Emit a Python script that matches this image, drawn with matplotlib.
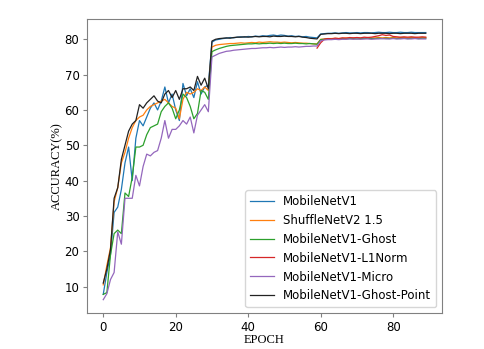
import matplotlib
matplotlib.use('Agg')
import matplotlib.pyplot as plt

epochs = list(range(90))

mobilenet = [7.8, 14, 19, 31, 32.5, 37.5, 45, 49.5, 40, 52,
             57, 55.5, 58, 60.5, 62, 60, 62.5, 66.5, 62, 64.5,
             60, 57, 67.5, 64, 66, 63.5, 68, 64.5, 66.5, 67,
             79.2, 79.8, 80.0, 80.2, 80.3, 80.5, 80.4, 80.6, 80.7, 80.6,
             80.8, 80.7, 80.9, 80.8, 81.0, 80.9, 81.1, 81.2, 81.0, 81.2,
             81.1, 80.9, 81.0, 80.8, 80.9, 80.7, 80.8, 80.6, 80.5, 80.4,
             81.5, 81.6, 81.7, 81.7, 81.8, 81.7, 81.8, 81.9, 81.8, 81.8,
             81.9, 81.8, 81.9, 81.9, 81.8, 81.9, 82.0, 81.9, 81.9, 82.0,
             81.9, 81.9, 82.0, 81.9, 81.9, 82.0, 81.9, 81.9, 81.9, 81.9]

shufflenet = [10.5, 16, 21, 34, 38, 45, 48, 52, 55, 57,
              58, 58.5, 60, 61, 61.5, 62, 62.5, 63, 62, 61,
              60.5, 57.5, 63, 65, 64.5, 65, 66, 65.5, 66.5, 65.5,
              77.8, 78.3, 78.5, 78.6, 78.7, 78.8, 78.8, 78.9, 79.0, 78.9,
              79.0, 79.1, 79.0, 79.2, 79.1, 79.2, 79.3, 79.2, 79.2, 79.1,
              79.2, 79.1, 79.0, 79.1, 79.0, 78.9, 78.9, 78.8, 78.7, 78.7,
              80.0, 80.1, 80.2, 80.2, 80.3, 80.2, 80.3, 80.4, 80.3, 80.4,
              80.4, 80.3, 80.4, 80.5, 80.4, 80.4, 80.5, 80.4, 80.5, 80.4,
              80.5, 80.4, 80.5, 80.5, 80.4, 80.5, 80.5, 80.4, 80.5, 80.5]

ghost = [7.8, 8.3, 19, 25, 26, 25, 36.5, 35.5, 41, 49.5,
         49.5, 50, 53, 55, 55.5, 56, 59.5, 61, 62, 60.5,
         57.5, 60, 64.5, 63.5, 61, 57.5, 59, 65.5, 65, 63,
         76.5, 77.0, 77.4, 77.7, 78.0, 78.2, 78.3, 78.4, 78.5, 78.6,
         78.7, 78.7, 78.8, 78.7, 78.8, 78.8, 78.9, 78.8, 78.9, 78.8,
         78.9, 78.8, 78.8, 78.9, 78.8, 78.8, 78.7, 78.8, 78.7, 78.6,
         79.9, 80.0, 80.1, 80.0, 80.1, 80.1, 80.2, 80.1, 80.2, 80.2,
         80.1, 80.2, 80.2, 80.3, 80.2, 80.2, 80.3, 80.2, 80.3, 80.2,
         80.3, 80.2, 80.3, 80.3, 80.2, 80.3, 80.3, 80.2, 80.3, 80.3]

l1norm_epochs = list(range(59, 90))
l1norm = [77.5, 79.0, 80.0, 80.2, 80.1, 80.3, 80.2, 80.4, 80.3, 80.5,
          80.4, 80.5, 80.4, 80.6, 80.5, 80.6, 80.8, 81.0, 81.3, 81.1,
          81.2, 80.8, 80.7, 80.6, 80.7, 80.6, 80.7, 80.6, 80.6, 80.7,
          80.6]

micro = [6.3, 8, 12, 14, 25.5, 22, 35, 35, 35, 41.5,
         38.5, 44, 47.5, 47, 48, 48.5, 52, 57, 52, 54.5,
         54.5, 55.5, 57, 56, 58, 53.5, 58.5, 60, 61.5, 59.5,
         75.0, 75.5, 76.0, 76.3, 76.6, 76.7, 76.9, 77.0, 77.1, 77.2,
         77.3, 77.4, 77.4, 77.5, 77.6, 77.6, 77.7, 77.6, 77.7, 77.8,
         77.7, 77.8, 77.8, 77.9, 77.8, 77.9, 78.0, 78.0, 78.1, 78.1,
         79.6, 79.8, 79.9, 79.9, 80.0, 79.9, 80.0, 80.0, 80.1, 80.0,
         80.1, 80.0, 80.1, 80.1, 80.0, 80.1, 80.1, 80.2, 80.1, 80.1,
         80.2, 80.1, 80.1, 80.2, 80.1, 80.1, 80.2, 80.1, 80.1, 80.1]

ghost_point = [11, 15, 20.5, 35, 38, 46, 50, 54, 56, 57,
               61.5, 60.5, 62, 63, 64, 62.5, 62, 64.5, 65.5, 63.5,
               65.5, 63, 66, 66, 66.5, 65.5, 69.5, 67, 69, 66,
               79.5, 80.0, 80.2, 80.3, 80.4, 80.3, 80.5, 80.6, 80.6, 80.7,
               80.6, 80.7, 80.8, 80.7, 80.8, 80.8, 80.7, 80.9, 80.8, 80.8,
               80.9, 80.8, 80.8, 80.7, 80.8, 80.6, 80.5, 80.3, 80.2, 80.1,
               81.4, 81.5, 81.6, 81.6, 81.7, 81.6, 81.7, 81.7, 81.6, 81.7,
               81.7, 81.6, 81.7, 81.7, 81.7, 81.6, 81.7, 81.7, 81.7, 81.6,
               81.7, 81.7, 81.6, 81.7, 81.7, 81.7, 81.6, 81.7, 81.7, 81.7]

fig = plt.figure(figsize=(4.84, 3.49), dpi=100)
ax = fig.add_axes([0.180, 0.103, 0.733, 0.843])

ax.plot(epochs, mobilenet, color='tab:blue', lw=0.9, label='MobileNetV1')
ax.plot(epochs, shufflenet, color='tab:orange', lw=0.9, label='ShuffleNetV2 1.5')
ax.plot(epochs, ghost, color='tab:green', lw=0.9, label='MobileNetV1-Ghost')
ax.plot(l1norm_epochs, l1norm, color='tab:red', lw=0.9, label='MobileNetV1-L1Norm')
ax.plot(epochs, micro, color='tab:purple', lw=0.9, label='MobileNetV1-Micro')
ax.plot(epochs, ghost_point, color='#222222', lw=0.9, label='MobileNetV1-Ghost-Point')

ax.set_xticks([0, 20, 40, 60, 80])
ax.set_yticks([10, 20, 30, 40, 50, 60, 70, 80])
ax.tick_params(labelsize=8.5, color='gray', length=3, pad=2.5)
for s in ax.spines.values():
    s.set_color('gray')

ax.set_xlabel('EPOCH', family='Liberation Serif', fontsize=9, labelpad=0)
ax.set_ylabel('ACCURACY(%)', family='Liberation Serif', fontsize=9, labelpad=1)

ax.legend(loc='lower right', fontsize=8.5)

fig.savefig('out.png', dpi=100)
